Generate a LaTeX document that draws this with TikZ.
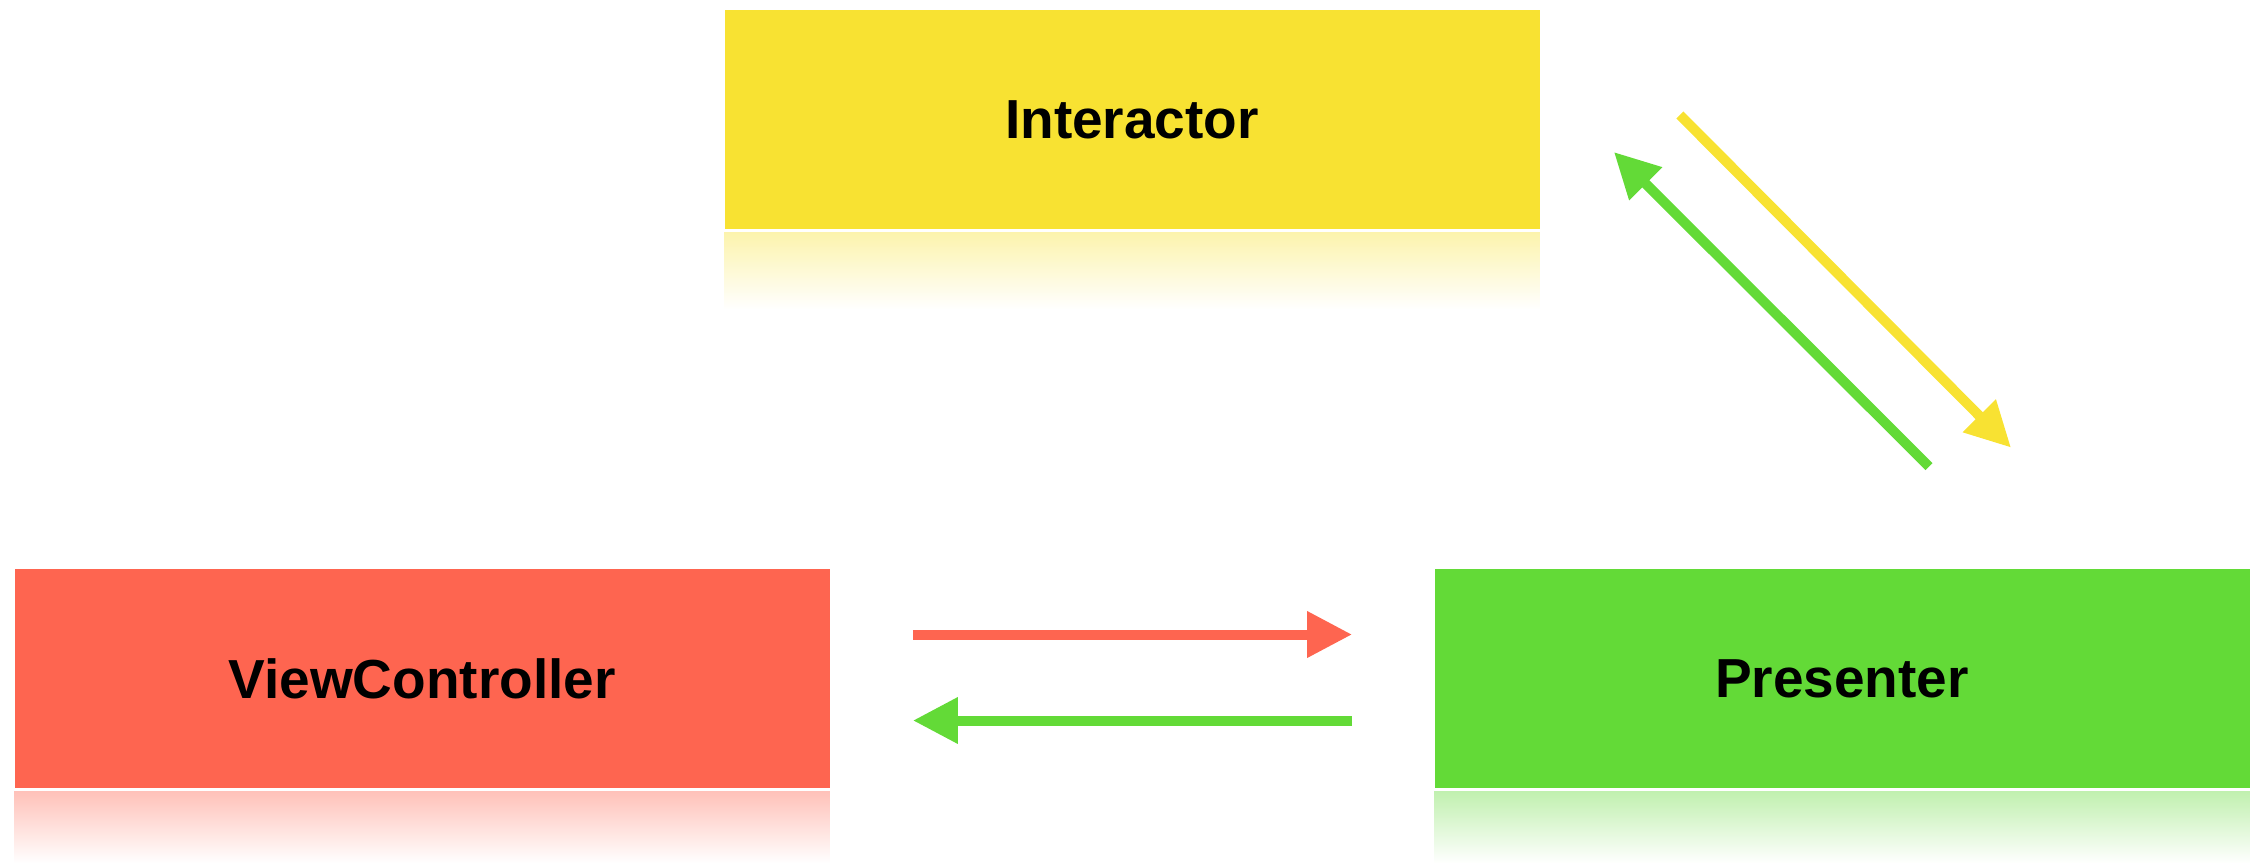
\documentclass[tikz,border=0pt]{standalone}
\usepackage{fontspec}
\setmainfont{Liberation Sans}
\usetikzlibrary{arrows.meta}
\usetikzlibrary{calc}
\definecolor{vipyellow}{HTML}{F8E232}
\definecolor{vipred}{HTML}{FE6550}
\definecolor{vipgreen}{HTML}{63DA37}
\tikzset{
  box/.style={minimum width=407.5pt, minimum height=109.5pt, inner sep=0pt, font=\fontsize{27.5}{33}\selectfont\bfseries},
  flow/.style={line width=5pt, -{Triangle[length=22.5pt,width=22pt]}},
}

\begin{document}
\begin{tikzpicture}[x=0.5pt,y=-0.5pt]
            \useasboundingbox (0,0) rectangle (2254,863);
            \node[box,fill=vipyellow] (intr) at (1132,119.5){Interactor};
            \node[box,fill=vipred] (vc) at (422,678.5){ViewController};
            \node[box,fill=vipgreen] (pres) at (1842,678.5){Presenter};

            \shade[top color=vipyellow!40,bottom color=white] ($(intr.south west)+(0,3)$) rectangle ($(intr.south east)+(0,80)$);
            \shade[top color=vipred!40,bottom color=white] ($(vc.south west)+(0,3)$) rectangle ($(vc.south east)+(0,75)$);
            \shade[top color=vipgreen!40,bottom color=white] ($(pres.south west)+(0,3)$) rectangle ($(pres.south east)+(0,75)$);

            \draw[flow,vipred] ($(vc.east)+(83,-44)$) -- ($(pres.west)+(-82,-44)$);
            \draw[flow,vipgreen] ($(pres.west)+(-82,42)$) -- ($(vc.east)+(83,42)$);
            \draw[flow,vipyellow] ($(intr.east)+(140,-4.5)$) -- ($(pres.north)+(169,-121)$);
            \draw[flow,vipgreen] ($(pres.north)+(87,-102)$) -- ($(intr.east)+(74,32.5)$);
        \end{tikzpicture}
\end{document}
